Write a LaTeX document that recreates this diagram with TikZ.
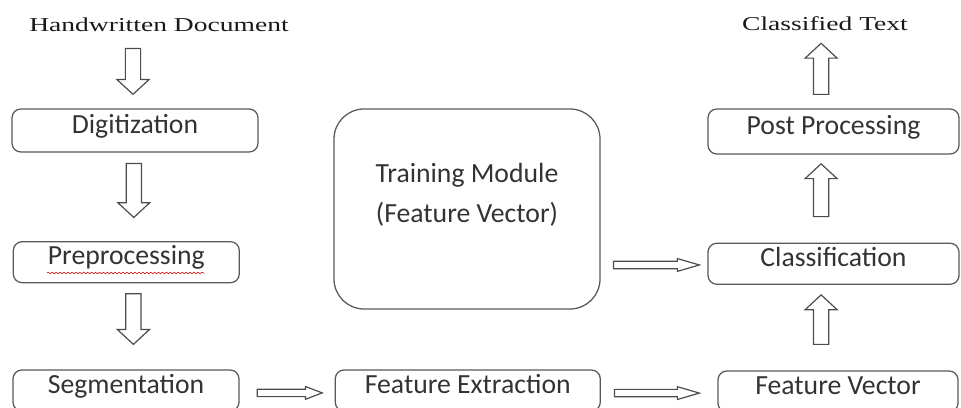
\documentclass[tikz,border=0pt]{standalone}
\usepackage{fontspec}
\setsansfont{Carlito}
\newfontfamily\titelfont[FakeStretch=1.4]{Liberation Serif}
\usepackage{tikz}
\usetikzlibrary{calc}
\usetikzlibrary{positioning}
\usetikzlibrary{decorations.pathmorphing}
\tikzset{
	kasten/.style={
		rectangle, 
		rounded corners=0.22cm, 
		% fill=black!10,
		draw=black!65, line width=0.9pt,
		text=black!80,
		minimum width=#1, 
		minimum height=1.025cm, 
		text height=0.64em, text depth=0.25em,
		inner sep=0pt,
		text centered},
	kasten/.default=6cm,
	modul/.style={
		rectangle, 
		rounded corners=0.75cm, 
		draw=black!65, line width=0.9pt,
		minimum width=6.65cm, 
		minimum height=5cm},
	titel/.style={font=\titelfont\fontsize{14}{17}\selectfont, text=black!90, inner sep=0pt},
	pfeil/.style n args={3}{
		draw=black!70, line width=0.85pt,
		to path={let \p1=(\tikztostart), \p2=(\tikztotarget),
			\n1={atan2(\y2-\y1,\x2-\x1)}, \n2={veclen(\x2-\x1,\y2-\y1)} in
			[shift={(\p1)}, rotate=\n1]
			(0pt,#1) -- ({\n2-#3},#1) -- ({\n2-#3},#2) -- (\n2,0pt)
			-- ({\n2-#3},-#2) -- ({\n2-#3},-#1) -- (0pt,-#1) -- cycle}},
	vpfeil/.style={pfeil={0.19cm}{0.4cm}{0.37cm}},
	hpfeil/.style={pfeil={0.093cm}{0.16cm}{#1}},
	hpfeil/.default=0.55cm,
	wellen/.style={draw=red!80!black, line width=0.4pt, decorate,
		decoration={snake, amplitude=0.6pt, segment length=2.8pt}},
}

\begin{document}
\begin{tikzpicture}[font=\sffamily\fontsize{19.7}{28.45}\selectfont]
	\useasboundingbox (0,0) rectangle (24.025,-10.2);
	\clip (0,0) rectangle (24.025,-10.2);
	\node[titel] (doc) at (3.975,-0.6125) {Handwritten Document};
	\node[titel] (ctext) at (20.625,-0.6) {Classified Text};
	\node[kasten=6.15cm, minimum height=1.075cm] (digit) at (3.375,-3.2625) {Digitization};
	\node[kasten=5.65cm] (prepro) at (3.1575,-6.555) {Preprocessing};
	\node[kasten=5.65cm] (segm) at (3.15,-9.7625) {Segmentation};
	\node[kasten=6.625cm, right=2.375cm of segm] (featex) {Feature Extraction};
	\node[modul] (train) at (11.675,-5.225) {};
	\node[align=center, text=black!80, inner sep=0pt] (trainlabel) at ($(train)+(0,0.35)$) {Training Module\\(Feature Vector)};
	\node[kasten=6.275cm, minimum height=1.125cm] (postpro) at (20.8375,-3.2875) {Post Processing};
	\node[kasten=6.275cm, below=2.2cm of postpro] (classif) {Classification};
	\node[kasten=6cm] (featvec) at (20.95,-9.7875) {Feature Vector};
	\draw[wellen] ($(prepro)+(-1.98,-0.27)$) -- ($(prepro)+(1.95,-0.27)$);
	\draw[vpfeil] ($(doc.south -| digit.north)+(-0.05,-0.42)$) to ($(digit.north)+(-0.05,0.35)$);
	\draw[vpfeil] ($(digit.south)+(-0.03,-0.27)$) to ($(prepro.north -| digit.north)+(-0.03,0.59)$);
	\draw[vpfeil] ($(prepro.south -| digit.south)+(-0.04,-0.26)$) to ($(segm.north -| digit.south)+(-0.04,0.625)$);
	\draw[hpfeil=0.42cm] ($(segm.east)+(0.44,-0.06)$) to ($(featex.west |- segm.east)+(-0.31,-0.06)$);
	\draw[hpfeil] ($(train.east |- classif.west)+(0.32,-0.03)$) to ($(classif.west)+(-0.2,-0.03)$);
	\draw[hpfeil] ($(featex.east |- featvec.west)+(0.34,-0.04)$) to ($(featvec.west)+(-0.45,-0.04)$);
	\draw[vpfeil] ($(featvec.north -| classif.south)+(-0.31,0.65)$) to ($(classif.south)+(-0.31,-0.25)$);
	\draw[vpfeil] ($(classif.north)+(-0.31,0.65)$) to ($(postpro.south)+(-0.31,-0.23)$);
	\draw[vpfeil] ($(postpro.north)+(-0.31,0.35)$) to ($(ctext.south -| postpro.north)+(-0.31,-0.3)$);
\end{tikzpicture}
\end{document}
